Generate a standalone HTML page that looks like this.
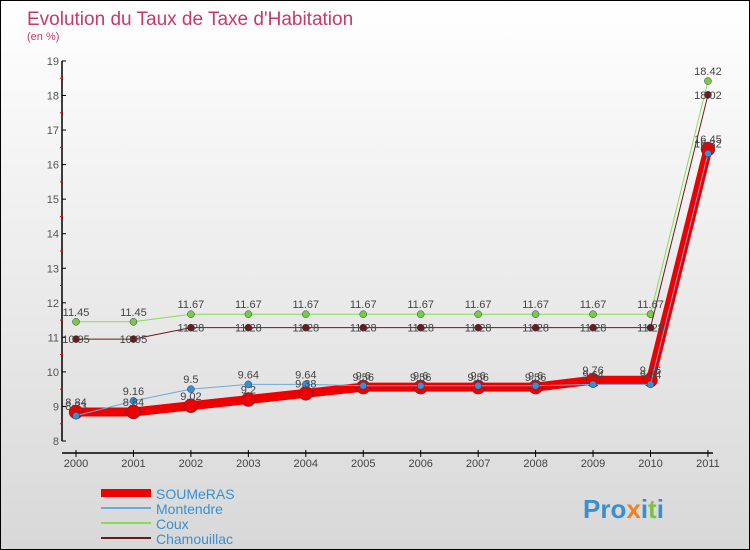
<!DOCTYPE html>
<html><head><meta charset="utf-8"><style>
body{margin:0}
#c{width:750px;height:550px;position:relative;box-sizing:border-box;border:1px solid #000;background:linear-gradient(#fff,#d8d8d8);font-family:"Liberation Sans",sans-serif;overflow:hidden}
</style></head><body>
<div id="c">
<svg id="s" width="748" height="548" style="position:absolute;left:0;top:0" font-family="Liberation Sans, sans-serif">
<text x="26" y="24" font-size="19" fill="#c8386a">Evolution du Taux de Taxe d'Habitation</text>
<text x="26" y="39" font-size="11" fill="#c8386a">(en %)</text>
<g id="axes"></g><g id="series"></g><g id="labels"></g>
<g id="legend"></g>
<text x="582" y="517" font-size="26" font-weight="bold" fill="#3a8fd0">Pro<tspan fill="#f08020">x</tspan>i<tspan fill="#80c040">t</tspan>i</text>
</svg>
</div>
<script>
const years=["2000","2001","2002","2003","2004","2005","2006","2007","2008","2009","2010","2011"];
const yTicks=[8,9,10,11,12,13,14,15,16,17,18,19];
const soumeras=[8.84,8.84,9.02,9.2,9.38,9.56,9.56,9.56,9.56,9.76,9.76,16.45];
const montendre=[8.73,9.16,9.5,9.64,9.64,9.6,9.6,9.6,9.6,9.64,9.64,16.32];
const coux=[11.45,11.45,11.67,11.67,11.67,11.67,11.67,11.67,11.67,11.67,11.67,18.42];
const chamouillac=[10.95,10.95,11.28,11.28,11.28,11.28,11.28,11.28,11.28,11.28,11.28,18.02];
const NS="http://www.w3.org/2000/svg";
const X=i=>75+i*57.45, Y=v=>440-(v-8)*34.55;
function mk(p,t,a){const e=document.createElementNS(NS,t);for(const k in a)e.setAttribute(k,a[k]);p.appendChild(e);return e;}
const ax=document.getElementById('axes');
mk(ax,'line',{x1:61,y1:Y(19),x2:61,y2:Y(8),stroke:'#000','stroke-width':1.5});
mk(ax,'line',{x1:61,y1:452,x2:X(11)+5,y2:452,stroke:'#000','stroke-width':1.5});
yTicks.forEach(v=>{
 const t=mk(ax,'line',{x1:61,y1:Y(v),x2:65,y2:Y(v),stroke:'#000'});
 
 if(v<19){mk(ax,'line',{x1:59,y1:Y(v+0.5),x2:62,y2:Y(v+0.5),stroke:'#e00'});}
 const l=mk(ax,'text',{x:58,y:Y(v)+4,'font-size':11,fill:'#555','text-anchor':'end'});l.textContent=v;
 
});
years.forEach((y,i)=>{
 mk(ax,'line',{x1:X(i),y1:449,x2:X(i),y2:456,stroke:'#000'});
 const l=mk(ax,'text',{x:X(i),y:466,'font-size':11,fill:'#444','text-anchor':'middle'});l.textContent=y;
 
});
const sg=document.getElementById('series'),lg=document.getElementById('labels');
function series(name,data,color,w,r,dot,lab){
 const g=mk(sg,'g',{});
 
 mk(g,'polyline',{points:data.map((v,i)=>X(i)+','+Y(v)).join(' '),fill:'none',stroke:color,'stroke-width':w,'stroke-linejoin':'round'});
 data.forEach((v,i)=>{
  const c=mk(g,'circle',{cx:X(i),cy:Y(v),r:r,fill:dot,stroke:'#335',"stroke-width":0.5});
  
  const t=mk(lg,'text',{x:X(i),y:Y(v)+lab,'font-size':11,fill:'#444','text-anchor':'middle'});t.textContent=v;
  
 });
}
series('coux',coux,'#88dd55',1,3.5,'#77cc44',-6);
series('chamouillac',chamouillac,'#6a1a1a',1,3.5,'#6a1a1a',4);
series('soumeras',soumeras,'#ee0000',9,7,'#ee0000',-6);
series('montendre',montendre,'#6aaadd',1,3.5,'#3a8fd0',-6);
const leg=document.getElementById('legend');
const names=["SOUMeRAS","Montendre","Coux","Chamouillac"],cols=["#ee0000","#6aaadd","#88dd55","#6a1a1a"],ws=[8,2,2,2];
names.forEach((n,i)=>{
 const y=492+i*15;
 mk(leg,'line',{x1:100,y1:y,x2:150,y2:y,stroke:cols[i],'stroke-width':ws[i]});
 const t=mk(leg,'text',{x:155,y:y+6,'font-size':14,fill:'#3a8fd0'});t.textContent=n;
 
});
</script>
</body></html>
